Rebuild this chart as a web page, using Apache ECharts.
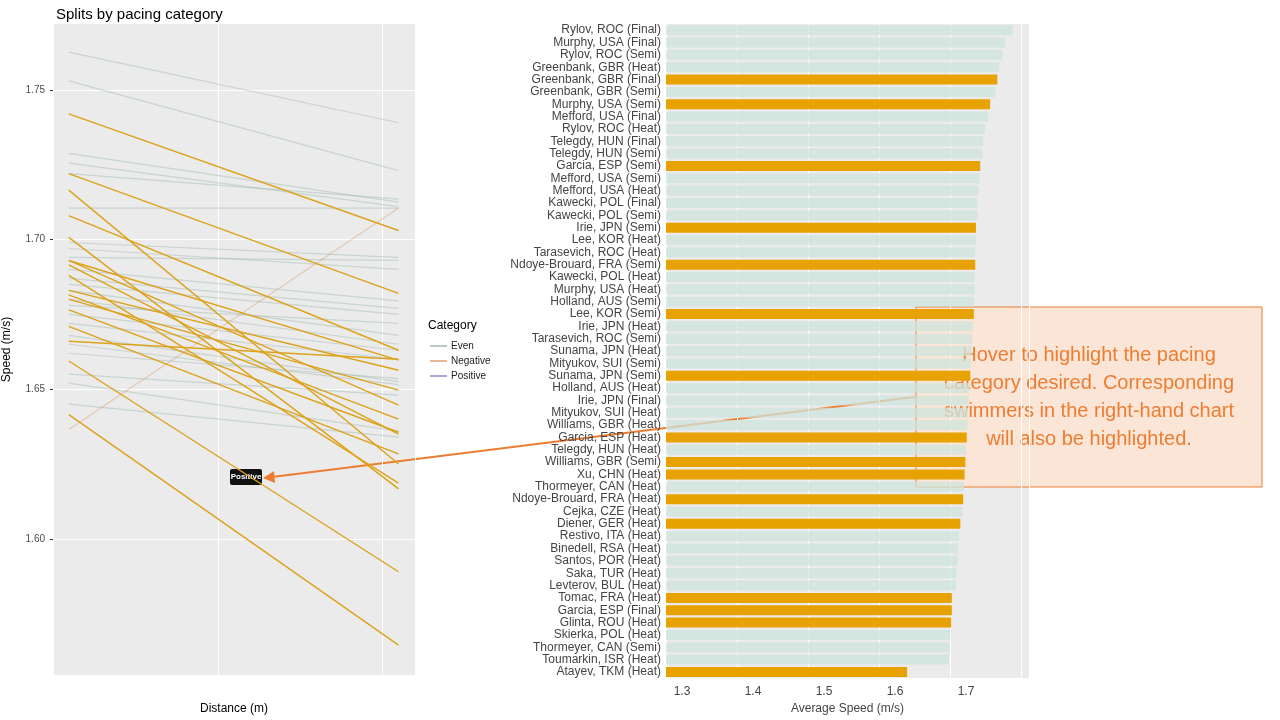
<!DOCTYPE html>
<html><head><meta charset="utf-8">
<script src="https://cdn.jsdelivr.net/npm/echarts@6/dist/echarts.min.js"></script>
<style>html,body{margin:0;padding:0;background:#fff}#c{width:1280px;height:720px}</style>
</head><body><div id="c"></div>
<script>
const distances = [100, 150];
const posStart = [1.742,1.722,1.7165,1.708,1.7007,1.693,1.693,1.6915,1.688,1.683,1.6815,1.680,1.6765,1.671,1.666,1.6594,1.6415];
const posEnd   = [1.703,1.682,1.625,1.663,1.6167,1.6597,1.6447,1.635,1.6186,1.6563,1.640,1.6497,1.6356,1.6284,1.660,1.589,1.5645];
const evenStart = [1.7626,1.753,1.7288,1.7255,1.722,1.7105,1.699,1.697,1.694,1.690,1.687,1.685,1.683,1.680,1.678,1.675,1.672,1.668,1.665,1.662,1.655,1.645,1.652];
const evenEnd   = [1.739,1.723,1.7125,1.711,1.7135,1.7105,1.694,1.690,1.693,1.6795,1.677,1.675,1.668,1.665,1.672,1.663,1.660,1.6525,1.6515,1.6535,1.648,1.634,1.636];
const negStart = [1.6365];
const negEnd = [1.7105];
const yTicks = [1.60, 1.65, 1.70, 1.75];

const swimmers = ["Rylov, ROC (Final)","Murphy, USA (Final)","Rylov, ROC (Semi)","Greenbank, GBR (Heat)","Greenbank, GBR (Final)","Greenbank, GBR (Semi)","Murphy, USA (Semi)","Mefford, USA (Final)","Rylov, ROC (Heat)","Telegdy, HUN (Final)","Telegdy, HUN (Semi)","Garcia, ESP (Semi)","Mefford, USA (Semi)","Mefford, USA (Heat)","Kawecki, POL (Final)","Kawecki, POL (Semi)","Irie, JPN (Semi)","Lee, KOR (Heat)","Tarasevich, ROC (Heat)","Ndoye-Brouard, FRA (Semi)","Kawecki, POL (Heat)","Murphy, USA (Heat)","Holland, AUS (Semi)","Lee, KOR (Semi)","Irie, JPN (Heat)","Tarasevich, ROC (Semi)","Sunama, JPN (Heat)","Mityukov, SUI (Semi)","Sunama, JPN (Semi)","Holland, AUS (Heat)","Irie, JPN (Final)","Mityukov, SUI (Heat)","Williams, GBR (Heat)","Garcia, ESP (Heat)","Telegdy, HUN (Heat)","Williams, GBR (Semi)","Xu, CHN (Heat)","Thormeyer, CAN (Heat)","Ndoye-Brouard, FRA (Heat)","Cejka, CZE (Heat)","Diener, GER (Heat)","Restivo, ITA (Heat)","Binedell, RSA (Heat)","Santos, POR (Heat)","Saka, TUR (Heat)","Levterov, BUL (Heat)","Tomac, FRA (Heat)","Garcia, ESP (Final)","Glinta, ROU (Heat)","Skierka, POL (Heat)","Thormeyer, CAN (Semi)","Toumarkin, ISR (Heat)","Atayev, TKM (Heat)"];
const avgSpeed = [1.766,1.755,1.751,1.747,1.744,1.741,1.734,1.731,1.727,1.724,1.723,1.720,1.719,1.717,1.716,1.716,1.714,1.714,1.713,1.713,1.712,1.712,1.711,1.711,1.710,1.709,1.708,1.707,1.706,1.705,1.704,1.703,1.702,1.701,1.700,1.699,1.698,1.697,1.696,1.695,1.692,1.690,1.689,1.688,1.687,1.686,1.680,1.680,1.679,1.678,1.677,1.676,1.617];
const positive = ["Greenbank, GBR (Final)","Murphy, USA (Semi)","Garcia, ESP (Semi)","Irie, JPN (Semi)","Ndoye-Brouard, FRA (Semi)","Lee, KOR (Semi)","Sunama, JPN (Semi)","Garcia, ESP (Heat)","Williams, GBR (Semi)","Xu, CHN (Heat)","Ndoye-Brouard, FRA (Heat)","Diener, GER (Heat)","Tomac, FRA (Heat)","Garcia, ESP (Final)","Glinta, ROU (Heat)","Atayev, TKM (Heat)"];

const GOLD = '#E8A200';
const series = [];
function addLines(s, e, color, opacity, width) {
  s.forEach((v, i) => series.push({type:'line', xAxisIndex:0, yAxisIndex:0, silent:true, symbol:'none',
    data:[[distances[0], v],[distances[1], e[i]]], lineStyle:{color, opacity, width}}));
}
addLines(evenStart, evenEnd, '#9DB8B0', 0.45, 1.2);
addLines(negStart, negEnd, '#D9A070', 0.45, 1.2);
addLines(posStart, posEnd, '#DDA21A', 1, 1.4);

const catRev = swimmers.slice().reverse();
const valRev = avgSpeed.slice().reverse();
series.push({type:'bar', xAxisIndex:1, yAxisIndex:1, barWidth:10,
  data: valRev.map((v,i)=>({value:v, itemStyle:{color: positive.includes(catRev[i]) ? GOLD : 'rgba(205,228,220,0.75)'}}))});

const chart = echarts.init(document.getElementById('c'));
chart.setOption({
  animation:false,
  title:{text:'Splits by pacing category', left:51, top:2, textStyle:{fontFamily:'Liberation Sans', fontSize:15, fontWeight:'normal', color:'#000'}},
  grid:[{left:52, top:24, width:363, height:656, backgroundColor:'#EBEBEB', show:true, borderWidth:0},
        {left:666, top:24, width:363, height:656, backgroundColor:'#EBEBEB', show:true, borderWidth:0}],
  xAxis:[{type:'value', gridIndex:0, min:97.6, max:152.5, interval:25,
          name:'Distance (m)', nameLocation:'middle', nameGap:28, nameTextStyle:{fontSize:12, color:'#000', fontFamily:'Liberation Sans'},
          axisLabel:{rotate:45, color:'#4D4D4D', fontSize:10, formatter:v=>(v===100||v===150)?String(v):'', showMinLabel:false, showMaxLabel:false, customValues:[100,150]},
          axisTick:{show:false}, axisLine:{show:false},
          splitLine:{show:true, lineStyle:{color:'#fff', width:1}}, minorTick:{show:false}},
         {type:'value', gridIndex:1, min:1.2775, max:1.7887, interval:0.1,
          name:'Average Speed (m/s)', nameLocation:'middle', nameGap:22, nameTextStyle:{fontSize:12, color:'#444', fontFamily:'Liberation Sans'},
          axisLabel:{color:'#444', fontSize:12, formatter:v=>v.toFixed(1), customValues:[1.3,1.4,1.5,1.6,1.7]},
          axisTick:{show:false}, axisLine:{show:false},
          splitLine:{show:true, lineStyle:{color:'#fff'}}}],
  yAxis:[{type:'value', gridIndex:0, min:1.5545, max:1.772, interval:0.025,
          name:'Speed (m/s)', nameLocation:'middle', nameGap:40, nameTextStyle:{fontSize:12, color:'#000', fontFamily:'Liberation Sans'},
          axisLabel:{color:'#4D4D4D', fontSize:10, customValues:yTicks, formatter:v=>v.toFixed(2)},
          axisTick:{show:true, length:3, lineStyle:{color:'#333'}, customValues:yTicks}, axisLine:{show:false},
          splitLine:{show:true, lineStyle:{color:'#fff', width:1}}},
         {type:'category', gridIndex:1, data:catRev,
          axisLabel:{color:'#444', fontSize:12, interval:0, margin:5},
          axisTick:{show:false}, axisLine:{show:false}, splitLine:{show:false}}],
  series,
  graphic:[
    {type:'text', left:428, top:320, style:{text:'Category', fontSize:12, fill:'#000', fontFamily:'Liberation Sans'}},
    {type:'line', shape:{x1:430,y1:346,x2:447,y2:346}, style:{stroke:'#9DB8B0', lineWidth:1.5}},
    {type:'line', shape:{x1:430,y1:361,x2:447,y2:361}, style:{stroke:'#E0A070', lineWidth:1.5}},
    {type:'line', shape:{x1:430,y1:376,x2:447,y2:376}, style:{stroke:'#8E8EC8', lineWidth:1.5}},
    {type:'text', left:451, top:341, style:{text:'Even', fontSize:10, fill:'#222'}},
    {type:'text', left:451, top:356, style:{text:'Negative', fontSize:10, fill:'#222'}},
    {type:'text', left:451, top:371, style:{text:'Positive', fontSize:10, fill:'#222'}},
    {type:'rect', shape:{x:230,y:469,width:32,height:16, r:2}, style:{fill:'#111'}},
    {type:'text', x:246, y:477, style:{text:'Positive', fontSize:8, fontWeight:'bold', fill:'#fff', align:'center', verticalAlign:'middle'}},
    {type:'line', shape:{x1:930,y1:395,x2:272,y2:477}, style:{stroke:'#ED7D31', lineWidth:2}},
    {type:'polygon', shape:{points:[[263,478],[274,471],[275,483]]}, style:{fill:'#ED7D31'}},
    {type:'rect', shape:{x:916,y:307,width:346,height:180}, style:{fill:'#FBE5D6', stroke:'#ED7D31', lineWidth:1}},
    {type:'text', x:1089, y:397, style:{text:'Hover to highlight the pacing\ncategory desired. Corresponding\nswimmers in the right-hand chart\nwill also be highlighted.', fontSize:20, lineHeight:28, fill:'#ED7D31', align:'center', verticalAlign:'middle', fontFamily:'Liberation Sans'}}
  ]
});
</script></body></html>
